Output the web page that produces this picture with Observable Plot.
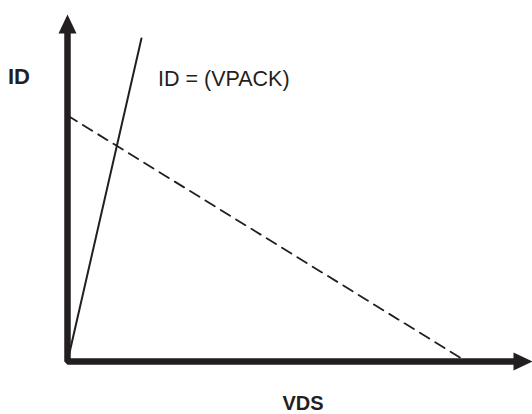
<!DOCTYPE html>
<html>
<head>
<meta charset="utf-8">
<script src="https://cdn.jsdelivr.net/npm/d3@7"></script>
<script src="https://cdn.jsdelivr.net/npm/@observablehq/plot@0.6"></script>
<style>
  html, body { margin: 0; padding: 0; background: #fff; }
  #chart svg { display: block; }
</style>
</head>
<body>
<div id="chart"></div>
<script>
// Axis frame (domain units, 0..100 on both axes)
const axisFrame = [
  {x: 0, y: 96},
  {x: 0, y: 0},
  {x: 97, y: 0}
];
// Arrow tips of the two axes
const arrowTips = [
  {x: 0, y: 100, angle: 0},
  {x: 100, y: 0, angle: 90}
];
// Solid load line: ID = (VPACK)
const solidLine = [
  {x: 0, y: 0},
  {x: 15.9, y: 93.1}
];
// Dashed line
const dashedLine = [
  {x: 0, y: 70.9},
  {x: 85.8, y: 0}
];
// Text labels
const yLabel = ["ID"];
const xLabel = ["VDS"];
const lineLabel = ["ID = (VPACK)"];

const ink = "#231f20";
const font = "'Liberation Sans', Arial, Helvetica, sans-serif";

const arrowHead = {
  draw(context) {
    context.moveTo(0, 0);
    context.lineTo(9, 19);
    context.lineTo(-9, 19);
    context.closePath();
  }
};

const chart = Plot.plot({
  width: 532,
  height: 414,
  marginLeft: 67,
  marginRight: 0,
  marginTop: 14,
  marginBottom: 53,
  style: {fontFamily: font, background: "#fff"},
  x: {domain: [0, 100], axis: null},
  y: {domain: [0, 100], axis: null},
  marks: [
    Plot.line(dashedLine, {x: "x", y: "y", stroke: ink, strokeWidth: 1.8, strokeDasharray: "11,7"}),
    Plot.line(solidLine, {x: "x", y: "y", stroke: ink, strokeWidth: 2}),
    Plot.line(axisFrame, {x: "x", y: "y", stroke: ink, strokeWidth: 6.5, strokeLinejoin: "miter", strokeLinecap: "butt"}),
    Plot.dot(arrowTips, {x: "x", y: "y", symbol: arrowHead, rotate: "angle", fill: ink, stroke: "none"}),
    Plot.text(yLabel, {frameAnchor: "top-left", text: d => d, dx: -59.5, dy: 62, textAnchor: "start", lineAnchor: "middle", fontSize: 22, fontWeight: "bold", fill: ink}),
    Plot.text(lineLabel, {frameAnchor: "top-left", text: d => d, dx: 90.5, dy: 65, textAnchor: "start", lineAnchor: "middle", fontSize: 21.5, fill: ink}),
    Plot.text(xLabel, {frameAnchor: "bottom", text: d => d, dx: 3, dy: 42, textAnchor: "middle", lineAnchor: "middle", fontSize: 20, fontWeight: "bold", fill: ink})
  ]
});
document.getElementById("chart").appendChild(chart);
</script>
</body>
</html>
